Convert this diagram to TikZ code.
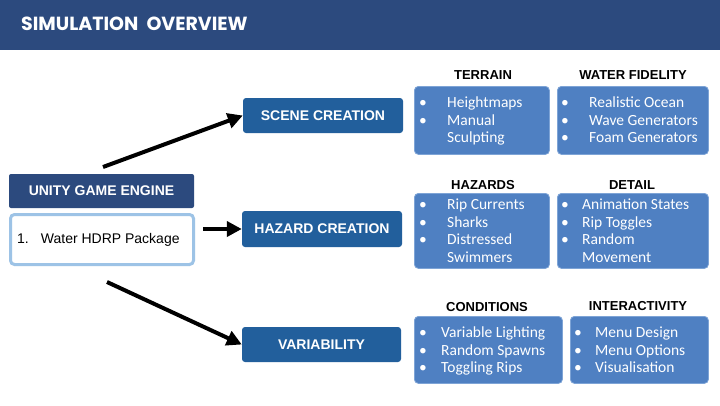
\documentclass[tikz,border=0pt]{standalone}
\usepackage{fontspec}
\setmainfont{Liberation Sans}
\newfontfamily\bodyfont{Carlito}
\newfontfamily\titlefont{Poppins}
\usetikzlibrary{arrows.meta}
\definecolor{navy}{HTML}{2C4A7E}
\definecolor{midblue}{HTML}{225F9C}
\definecolor{itemblue}{HTML}{4F80C2}
\definecolor{itemedge}{HTML}{7EA4D6}
\definecolor{paleblue}{HTML}{9DC3E6}
\tikzset{
  x=1pt, y=-1pt,
  navybox/.style={fill=navy, rounded corners=2pt, text=white, font=\fontsize{14}{16}\selectfont\bfseries, inner sep=0pt},
  midbox/.style={fill=midblue, rounded corners=3pt, text=white, font=\fontsize{14}{16}\selectfont\bfseries, inner sep=0pt, minimum width=160pt, minimum height=35pt},
  itembox/.style={fill=itemblue, draw=itemedge, line width=0.8pt, rounded corners=4pt, anchor=north west, inner sep=0pt},
  itemtext/.style={anchor=north west, inner sep=0pt, text=white, font=\bodyfont\fontsize{15.5}{17.7}\selectfont, align=left},
  head/.style={font=\fontsize{13}{15}\selectfont\bfseries, text=black, inner sep=0pt},
  arr/.style={line width=4pt, -{Triangle[length=15pt,width=15pt]}},
}
\newcommand\blist[2]{\begin{tabular}{@{}p{#1}@{}l@{}}#2\end{tabular}}
\begin{document}
\begin{tikzpicture}
\useasboundingbox (0,0) rectangle (720,405);
\fill[white] (0,0) rectangle (720,405);
% title bar
\fill[navy] (0,0) rectangle (720,50);
\node[anchor=west, inner sep=0pt, text=white, font=\titlefont\bfseries\fontsize{19}{22}\selectfont] (title) at (21,24) {SIMULATION\ \ OVERVIEW};

% left
\node[navybox, minimum width=185pt, minimum height=34pt] (unity) at (101.5,191) {UNITY GAME ENGINE};
\node[draw=paleblue, line width=3pt, fill=white, rounded corners=4pt, minimum width=183pt, minimum height=50pt, inner sep=0pt] (water) at (102,239.5) {};
\node[anchor=west, inner sep=0pt, font=\fontsize{14}{16}\selectfont] (wtext) at (17,240) {1.\hspace{12pt}Water HDRP Package};

% middle
\node[midbox] (scene) at (323,115.5) {SCENE CREATION};
\node[midbox, minimum height=36pt] (hazard) at (322,229) {HAZARD CREATION};
\node[midbox, minimum width=159pt] (var) at (321.5,344.5) {VARIABILITY};

% arrows
\coordinate (a1) at (103,167);
\coordinate (a2) at (203,229);
\coordinate (a3) at (107,282);
\draw[arr] (a1) -- (scene.west);
\draw[arr] (a2) -- (hazard.west);
\draw[arr] (a3) -- (var.west);

% right: scene
\node[itembox, minimum width=135pt, minimum height=68pt] (terrain) at (414,86) {};
\node[itembox, minimum width=151pt, minimum height=68pt] (fidelity) at (557,86) {};
\node[head] (hterrain) at (483,75) {TERRAIN};
\node[head] (hfidelity) at (633,75) {WATER FIDELITY};
\node[itemtext] (tterrain) at (419,95) {\blist{28pt}{\textbullet & Heightmaps\\ \textbullet & Manual\\ & Sculpting}};
\node[itemtext] (tfidelity) at (561,95) {\blist{28pt}{\textbullet & Realistic Ocean\\ \textbullet & Wave Generators\\ \textbullet & Foam Generators}};

% right: hazard
\node[itembox, minimum width=135pt, minimum height=75pt] (hazards) at (414,193) {};
\node[itembox, minimum width=151pt, minimum height=75pt] (detail) at (557,193) {};
\node[head] (hhazards) at (483,185) {HAZARDS};
\node[head] (hdetail) at (632,185) {DETAIL};
\node[itemtext] (thazards) at (419,197) {\blist{28pt}{\textbullet & Rip Currents\\ \textbullet & Sharks\\ \textbullet & Distressed\\ & Swimmers}};
\node[itemtext] (tdetail) at (561,197) {\blist{21pt}{\textbullet & Animation States\\ \textbullet & Rip Toggles\\ \textbullet & Random\\ & Movement}};

% right: variability
\node[itembox, minimum width=148pt, minimum height=67pt] (cond) at (414,316) {};
\node[itembox, minimum width=138pt, minimum height=67pt] (inter) at (570,316) {};
\node[head] (hcond) at (487,307) {CONDITIONS};
\node[head] (hinter) at (638,306) {INTERACTIVITY};
\node[itemtext] (tcond) at (419,325) {\blist{22pt}{\textbullet & Variable Lighting\\ \textbullet & Random Spawns\\ \textbullet & Toggling Rips}};
\node[itemtext] (tinter) at (574,325) {\blist{21pt}{\textbullet & Menu Design\\ \textbullet & Menu Options\\ \textbullet & Visualisation}};
\end{tikzpicture}
\end{document}
